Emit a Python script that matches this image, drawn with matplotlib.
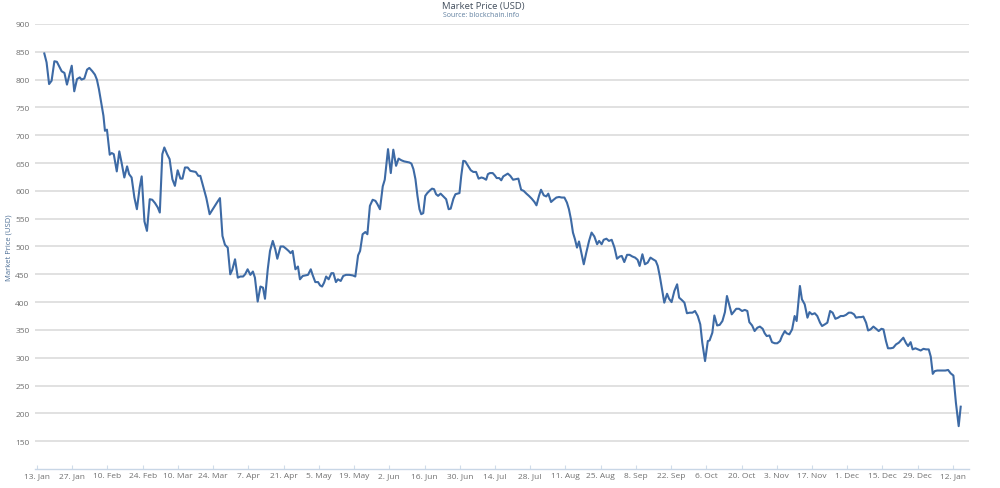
import matplotlib
matplotlib.use('Agg')
import matplotlib.pyplot as plt

# days since 13 Jan 2014 and the market price
days = [2.9, 3.8, 4.8, 5.8, 6.9, 7.9, 8.7, 9.8, 10.9, 11.9, 13.8, 14.8, 15.9, 17.0, 17.7,
        18.8, 19.9, 20.8, 22.0, 23.0, 23.8, 24.6, 25.4, 26.4, 27.0, 27.8, 28.9, 29.7, 30.5,
        31.7, 32.7, 33.6, 34.7, 35.8, 36.6, 37.6, 38.7, 39.7, 40.8, 41.6, 42.7, 43.7, 44.8,
        45.8, 46.9, 48.0, 48.8, 49.8, 50.6, 51.7, 52.7, 53.8, 54.8, 55.9, 57.0, 57.8, 58.8,
        59.9, 60.9, 62.0, 63.1, 64.1, 64.9, 66.0, 67.3, 68.6, 69.7, 70.7, 71.8, 72.7, 73.7,
        74.7, 75.8, 76.8, 77.6, 78.7, 79.8, 80.8, 81.9, 82.7, 83.7, 84.8, 85.8, 86.6, 87.7,
        88.8, 89.8, 90.6, 91.7, 92.6,
        93.7, 94.7, 95.5, 96.8, 97.9, 99.0, 100.0, 100.8, 101.6, 102.7, 103.7, 104.5, 105.6,
        106.6, 107.7, 108.8, 109.6, 110.6, 111.7, 112.5, 113.3, 114.1, 114.9, 115.9, 117.0,
        117.8, 118.8, 119.6, 120.7, 121.7, 122.8, 124.1, 125.5, 126.5, 127.6, 128.4, 129.4,
        130.5, 131.3, 132.3, 133.4, 134.5, 135.3, 136.3, 137.4, 138.2, 139.5, 140.6, 141.6,
        142.7, 143.7, 144.8, 145.9, 146.9, 148.0, 148.8, 149.6, 150.4, 151.2, 152.0, 152.7,
        153.5, 154.3, 155.1, 156.2, 157.0, 157.8, 158.6, 159.4, 160.4, 161.5, 162.6, 163.6,
        164.4, 165.5, 166.3, 167.1, 167.9, 168.6, 169.4, 170.2, 171.3, 172.4, 173.4, 174.5,
        175.5, 176.6, 177.4, 178.5, 179.2, 180.0, 181.1, 181.9, 182.7, 183.7, 184.5, 185.3,
        186.0,
        187.1, 188.1, 189.2, 190.2, 191.3, 192.4, 193.4, 194.5, 195.5, 196.6, 197.7, 198.5,
        199.5, 200.3, 201.4, 202.4, 203.2, 204.3, 205.3, 206.4, 207.5, 208.5, 209.6, 210.6,
        211.4, 212.2, 213.0, 213.8, 214.6, 215.4, 216.2, 217.3, 218.3, 219.4, 220.4, 221.5,
        222.6, 223.4, 224.4, 225.2, 226.3, 227.3, 228.4, 229.5, 230.5, 231.6, 232.4, 233.4,
        234.5, 235.5, 236.6, 237.7, 238.7, 239.5, 240.6, 241.6, 242.7, 243.8, 244.8, 245.9,
        246.7, 247.5, 248.3, 249.3, 250.4, 251.2, 252.2, 253.3, 254.4, 255.2, 256.2, 257.3,
        258.3, 259.4, 260.5, 261.5, 262.6, 263.6, 264.4, 265.5, 266.6, 267.3, 268.4, 269.2,
        270.3, 271.3, 272.4, 273.4, 274.2, 275.3, 276.1, 277.2, 277.9, 279.0,
        280.2, 281.3, 282.3, 283.1, 284.2, 285.2, 286.3, 287.3, 288.4, 289.2, 290.0, 291.1,
        292.1, 293.2, 294.2, 295.3, 296.1, 297.2, 297.9, 299.0, 300.1, 301.1, 301.9, 303.2,
        304.0, 305.1, 306.2, 307.0, 308.0, 309.1, 310.1, 311.2, 312.0, 313.1, 314.1, 315.2,
        316.2, 317.3, 318.4, 319.4, 320.5, 321.5, 322.6, 323.6, 324.7, 325.5, 326.6, 327.6,
        328.4, 329.5, 330.3, 331.3, 332.4, 333.5, 334.5, 335.6, 336.4, 337.4, 338.2, 339.3,
        340.3, 341.4, 342.5, 343.5, 344.3, 345.4, 346.2, 347.2, 348.0, 349.1, 350.1, 351.2,
        352.3, 353.3, 354.4, 355.2, 356.0, 356.8, 357.8, 358.9, 359.9, 361.0, 362.1, 363.1,
        364.2, 365.2, 366.3, 367.1]

price = [847, 831, 792, 798, 833, 832, 825, 815, 812, 791, 825, 779, 801, 804, 800,
         802, 818, 821, 815, 809, 800, 783, 762, 735, 708, 710, 665, 668, 666,
         635, 671, 651, 624, 644, 630, 624, 588, 567, 606, 626, 545, 528, 585,
         584, 578, 570, 561, 666, 678, 666, 657, 621, 609, 637, 622, 622, 642,
         642, 636, 635, 634, 627, 627, 609, 587, 558, 566, 573, 581, 587, 519,
         503, 498, 450, 458, 477, 444, 446, 446, 450, 459, 449, 455, 444, 401,
         428, 426, 406, 459, 492,
         510, 495, 478, 500, 500, 496, 492, 488, 492, 459, 464, 441, 447,
         448, 449, 459, 448, 436, 436, 430, 428, 435, 446, 441, 452,
         452, 436, 441, 438, 447, 449, 449, 448, 446, 484, 492, 522,
         526, 522, 573, 584, 582, 576, 567, 608, 620, 675, 632, 674,
         645, 658, 655, 653, 652, 651, 649, 639, 621, 591, 567, 558,
         560, 591, 596, 601, 604, 603, 594, 591, 595, 590, 585, 567,
         568, 586, 594, 595, 596, 627, 654, 653, 645, 637, 634, 634,
         622, 624, 623, 620, 630, 632, 632, 628, 623, 623, 619, 626,
         628,
         631, 627, 620, 621, 622, 602, 600, 595, 591, 586, 580, 574,
         591, 602, 592, 590, 595, 580, 584, 588, 589, 588, 588, 579,
         567, 549, 525, 513, 498, 509, 492, 468, 489, 510, 525, 518,
         504, 510, 504, 512, 514, 510, 512, 498, 478, 482, 483, 472,
         485, 485, 482, 480, 476, 465, 486, 468, 471, 480, 477, 474,
         465, 447, 426, 399, 415, 406, 400, 420, 432, 408, 404, 399,
         380, 381, 381, 384, 375, 360, 327, 294, 330, 331, 345, 376,
         358, 359, 366, 382, 411, 392, 378, 384, 388, 388,
         384, 386, 384, 364, 358, 348, 354, 356, 352, 344, 339, 340,
         328, 326, 326, 330, 339, 348, 344, 342, 351, 375, 366, 429,
         405, 396, 372, 382, 378, 380, 375, 363, 357, 360, 363, 384,
         381, 370, 372, 375, 375, 377, 381, 381, 378, 372, 373, 373,
         374, 363, 349, 351, 356, 352, 348, 352, 351, 330, 317, 317,
         318, 324, 327, 332, 336, 326, 321, 328, 315, 317, 315, 313,
         316, 315, 315, 302, 271, 276, 277, 277, 277, 277, 278, 272,
         268, 219, 177, 212]

tick_days = list(range(0, 365, 14))
tick_labels = ['13. Jan', '27. Jan', '10. Feb', '24. Feb', '10. Mar', '24. Mar', '7. Apr',
               '21. Apr', '5. May', '19. May', '2. Jun', '16. Jun', '30. Jun', '14. Jul',
               '28. Jul', '11. Aug', '25. Aug', '8. Sep', '22. Sep', '6. Oct', '20. Oct',
               '3. Nov', '17. Nov', '1. Dec', '15. Dec', '29. Dec', '12. Jan']
y_ticks = list(range(150, 901, 50))

plt.rcParams['font.family'] = ['Open Sans', 'DejaVu Sans']

fig = plt.figure(figsize=(10, 4.89), dpi=100)
ax = fig.add_axes([0.035, 0.0389, 0.934, 0.910])

ax.plot(days, price, color='#3d6aa5', linewidth=1.5, solid_joinstyle='round')

ax.set_xlim(-0.8, 370.4)
ax.set_ylim(100, 900)
ax.set_yticks(y_ticks)
ax.set_xticks(tick_days)
ax.set_xticklabels(tick_labels)

ax.grid(axis='y', color='#dcdcdc', linewidth=1.2)
ax.set_axisbelow(True)
for side in ['top', 'right', 'left']:
    ax.spines[side].set_visible(False)
ax.spines['bottom'].set_color('#c8d6e6')
ax.spines['bottom'].set_linewidth(1.0)

ax.tick_params(axis='y', length=0, pad=4, labelsize=6, labelcolor='#707070')
ax.tick_params(axis='x', length=3, direction='in', color='#d0dcea', pad=2,
               labelsize=6, labelcolor='#707070')

ax.set_ylabel('Market Price (USD)', fontsize=5.5, color='#4d6f96')
ax.yaxis.set_label_coords(-0.024, 0.5)

fig.text(0.483, 0.987, 'Market Price (USD)', ha='center', va='center',
         fontsize=6.8, color='#44505e')
fig.text(0.481, 0.969, 'Source: blockchain.info', ha='center', va='center',
         fontsize=5, color='#5f7f9f')

plt.savefig('out.png', dpi=100)
